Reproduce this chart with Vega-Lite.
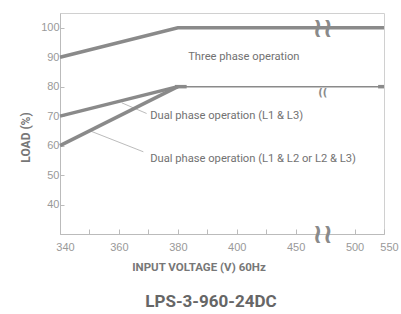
{
  "$schema": "https://vega.github.io/schema/vega-lite/v6.json",
  "width": 324,
  "height": 221,
  "autosize": {"type": "none"},
  "padding": {"left": 60, "top": 13, "right": 17, "bottom": 80},
  "background": "white",
  "config": {
    "view": {"stroke": "#d0d0d0", "strokeWidth": 1},
    "font": "Roboto"
  },
  "title": {
    "text": "LPS-3-960-24DC",
    "orient": "bottom",
    "frame": "group",
    "anchor": "middle",
    "dx": -11,
    "offset": 21,
    "font": "Roboto",
    "fontSize": 17,
    "fontWeight": "bold",
    "color": "#666666"
  },
  "datasets": {
    "curves": [
      {"series": "Three phase", "voltage": 340, "load": 90},
      {"series": "Three phase", "voltage": 380, "load": 100},
      {"series": "Three phase", "voltage": 550, "load": 100},
      {"series": "L1 & L3", "voltage": 340, "load": 70},
      {"series": "L1 & L3", "voltage": 380, "load": 80},
      {"series": "L1 & L2 or L2 & L3", "voltage": 340, "load": 60},
      {"series": "L1 & L2 or L2 & L3", "voltage": 380, "load": 80}
    ],
    "plateau": [
      {"voltage": 380, "load": 80},
      {"voltage": 550, "load": 80}
    ],
    "stubs": [
      {"seg": "a", "voltage": 379, "load": 80},
      {"seg": "a", "voltage": 383, "load": 80},
      {"seg": "b", "voltage": 540, "load": 80},
      {"seg": "b", "voltage": 550, "load": 80}
    ],
    "leaders": [
      {"seg": "a", "voltage": 361, "load": 74.5},
      {"seg": "a", "voltage": 369.4, "load": 70.9},
      {"seg": "b", "voltage": 350.2, "load": 65},
      {"seg": "b", "voltage": 368.3, "load": 57.9}
    ],
    "notes": [
      {"text": "Three phase operation", "voltage": 383.5, "load": 90},
      {"text": "Dual phase operation (L1 & L3)", "voltage": 370.6, "load": 70},
      {"text": "Dual phase operation (L1 & L2 or L2 & L3)", "voltage": 370.6, "load": 55.6}
    ],
    "breaks": [
      {"voltage": 473, "load": 100},
      {"voltage": 473, "load": 30}
    ],
    "break80": [
      {"voltage": 473, "load": 78}
    ]
  },
  "encoding": {
    "x": {
      "field": "voltage",
      "type": "quantitative",
      "scale": {"domain": [340, 400, 450, 500, 550], "range": [0, 176.73, 235.64, 294.55, 324], "nice": false, "zero": false},
      "axis": {
        "values": [340, 350, 360, 370, 380, 390, 400, 425, 450, 500, 550],
        "labelExpr": "indexof([350,370,390,425], datum.value) >= 0 ? '' : datum.label",
        "labelOffset": {"condition": {"test": "datum.value == 550 || datum.value == 340", "value": 5}, "value": 0},
        "title": "INPUT VOLTAGE (V) 60Hz",
        "grid": false,
        "domainColor": "#bbbbbb",
        "tickColor": "#bbbbbb",
        "tickSize": -5,
        "labelPadding": 12,
        "labelColor": "#999999",
        "labelFont": "Liberation Sans",
        "labelFontSize": 11,
        "labelFlush": false,
        "titleFont": "Roboto",
        "titleFontWeight": "bold",
        "titleFontSize": 11.5,
        "titleColor": "#777777",
        "titleX": 138.5,
        "titleY": 33,
        "titleBaseline": "middle"
      }
    },
    "y": {
      "field": "load",
      "type": "quantitative",
      "scale": {"domain": [30, 105], "nice": false, "zero": false},
      "axis": {
        "values": [40, 50, 60, 70, 80, 90, 100],
        "title": "LOAD (%)",
        "grid": false,
        "domainColor": "#bbbbbb",
        "tickColor": "#bbbbbb",
        "tickSize": -4,
        "labelPadding": 5,
        "labelColor": "#999999",
        "labelFont": "Liberation Sans",
        "labelFontSize": 11,
        "titleFont": "Roboto",
        "titleFontWeight": "bold",
        "titleFontSize": 12,
        "titleColor": "#777777",
        "titleX": -35,
        "titleY": 124,
        "titleAlign": "center",
        "titleBaseline": "middle"
      }
    }
  },
  "layer": [
    {
      "data": {"name": "leaders"},
      "mark": {"type": "line", "color": "#aaaaaa", "strokeWidth": 0.8},
      "encoding": {"detail": {"field": "seg"}}
    },
    {
      "data": {"name": "plateau"},
      "mark": {"type": "line", "color": "#8a8a8a", "strokeWidth": 1.5},
      "encoding": {}
    },
    {
      "data": {"name": "stubs"},
      "mark": {"type": "line", "color": "#8a8a8a", "strokeWidth": 3.5},
      "encoding": {"detail": {"field": "seg"}}
    },
    {
      "data": {"name": "curves"},
      "mark": {"type": "line", "color": "#8a8a8a", "strokeWidth": 3.5},
      "encoding": {"detail": {"field": "series"}}
    },
    {
      "data": {"name": "notes"},
      "mark": {"type": "text", "align": "left", "baseline": "middle", "font": "Roboto", "fontSize": 11.2, "color": "#727272"},
      "encoding": {"text": {"field": "text"}}
    },
    {
      "data": {"name": "breaks"},
      "mark": {"type": "text", "text": "≀≀", "font": "DejaVu Sans", "fontWeight": "bold", "fontSize": 27, "color": "#8a8a8a", "baseline": "middle", "align": "center", "dy": 1},
      "encoding": {}
    },
    {
      "data": {"name": "break80"},
      "mark": {"type": "text", "text": "((", "font": "DejaVu Sans", "fontWeight": "bold", "fontSize": 10, "color": "#8a8a8a", "baseline": "middle", "align": "center"},
      "encoding": {}
    }
  ]
}
